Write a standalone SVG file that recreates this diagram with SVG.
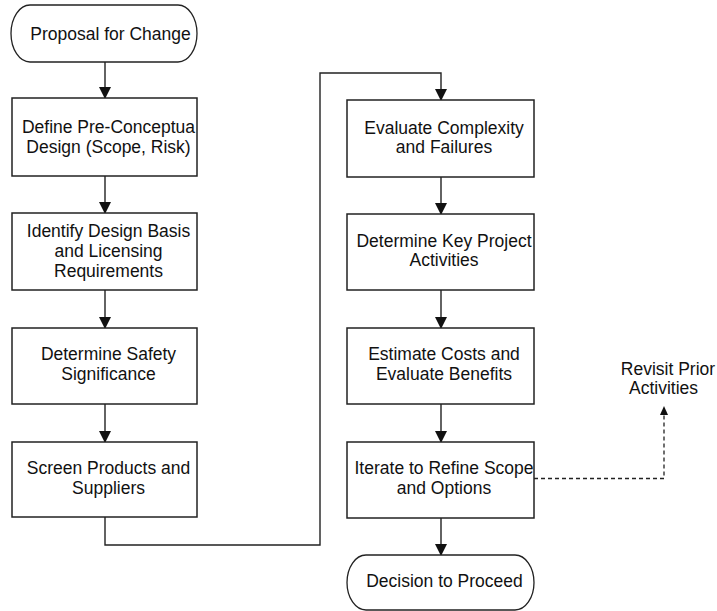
<svg xmlns="http://www.w3.org/2000/svg" width="717" height="611" viewBox="0 0 717 611">
  <defs>
    <marker id="arrow" markerUnits="userSpaceOnUse" markerWidth="12" markerHeight="13" refX="11" refY="6" orient="auto">
      <path d="M0,0 L12,6 L0,12 Z" fill="#111"/>
    </marker>
    <marker id="arrow-small" markerUnits="userSpaceOnUse" markerWidth="9" markerHeight="8" refX="8" refY="4" orient="auto">
      <path d="M0,0 L9,4 L0,8 Z" fill="#111"/>
    </marker>
    <style>
      .box { fill: #fff; stroke: #222; stroke-width: 1.5; }
      .term { fill: #fff; stroke: #222; stroke-width: 1.3; }
      .lbl { font-family: "Liberation Sans", Arial, sans-serif; font-size: 17.5px; fill: #111; text-anchor: middle; }
      .flow { fill: none; stroke: #222; stroke-width: 1.4; }
      .dash { fill: none; stroke: #222; stroke-width: 1.3; stroke-dasharray: 4 3; }
    </style>
  </defs>
  <rect width="717" height="611" fill="#fff"/>

  <!-- connectors -->
  <g id="connectors">
    <path class="flow" d="M105,62 V98" marker-end="url(#arrow)"/>
    <path class="flow" d="M105,176 V213" marker-end="url(#arrow)"/>
    <path class="flow" d="M105,290 V328" marker-end="url(#arrow)"/>
    <path class="flow" d="M105,404 V442" marker-end="url(#arrow)"/>
    <path class="flow" d="M105,517 V545 H320 V73 H441 V100" marker-end="url(#arrow)"/>
    <path class="flow" d="M441,177 V214" marker-end="url(#arrow)"/>
    <path class="flow" d="M441,290 V328" marker-end="url(#arrow)"/>
    <path class="flow" d="M441,404 V442" marker-end="url(#arrow)"/>
    <path class="flow" d="M441,518 V555" marker-end="url(#arrow)"/>
    <path class="dash" d="M534,478.5 H664 V407" marker-end="url(#arrow-small)"/>
  </g>

  <!-- left column -->
  <g id="proposal">
    <path class="term" d="M30,5 H178 A19 28.5 0 0 1 178,62 H30 A19 28.5 0 0 1 30,5 Z"/>
    <text class="lbl" x="110.5" y="39.5">Proposal for Change</text>
  </g>
  <g id="define">
    <rect class="box" x="12" y="98" width="185" height="78"/>
    <text class="lbl" x="108.5" y="132.7">Define Pre-Conceptua</text>
    <text class="lbl" x="108.5" y="152.7">Design (Scope, Risk)</text>
  </g>
  <g id="identify">
    <rect class="box" x="12" y="213" width="185" height="77"/>
    <text class="lbl" x="108.5" y="236.5">Identify Design Basis</text>
    <text class="lbl" x="108.5" y="256.5">and Licensing</text>
    <text class="lbl" x="108.5" y="276.5">Requirements</text>
  </g>
  <g id="safety">
    <rect class="box" x="12" y="328" width="185" height="76"/>
    <text class="lbl" x="108.5" y="360">Determine Safety</text>
    <text class="lbl" x="108.5" y="380">Significance</text>
  </g>
  <g id="screen">
    <rect class="box" x="12" y="442" width="185" height="75"/>
    <text class="lbl" x="108.5" y="474">Screen Products and</text>
    <text class="lbl" x="108.5" y="494">Suppliers</text>
  </g>

  <!-- right column -->
  <g id="complexity">
    <rect class="box" x="347" y="100" width="187" height="77"/>
    <text class="lbl" x="444" y="133.5">Evaluate Complexity</text>
    <text class="lbl" x="444" y="153">and Failures</text>
  </g>
  <g id="activities">
    <rect class="box" x="347" y="214" width="187" height="76"/>
    <text class="lbl" x="444" y="246.7">Determine Key Project</text>
    <text class="lbl" x="444" y="266">Activities</text>
  </g>
  <g id="costs">
    <rect class="box" x="347" y="328" width="187" height="76"/>
    <text class="lbl" x="444" y="360">Estimate Costs and</text>
    <text class="lbl" x="444" y="380">Evaluate Benefits</text>
  </g>
  <g id="iterate">
    <rect class="box" x="347" y="442" width="187" height="76"/>
    <text class="lbl" x="444" y="474">Iterate to Refine Scope</text>
    <text class="lbl" x="444" y="494">and Options</text>
  </g>
  <g id="decision">
    <path class="term" d="M366,555 H515 A19 27.5 0 0 1 515,610 H366 A19 27.5 0 0 1 366,555 Z"/>
    <text class="lbl" x="444.5" y="587.3">Decision to Proceed</text>
  </g>
  <g id="revisit">
    <text class="lbl" x="668" y="375">Revisit Prior</text>
    <text class="lbl" x="663.5" y="394">Activities</text>
  </g>
</svg>
